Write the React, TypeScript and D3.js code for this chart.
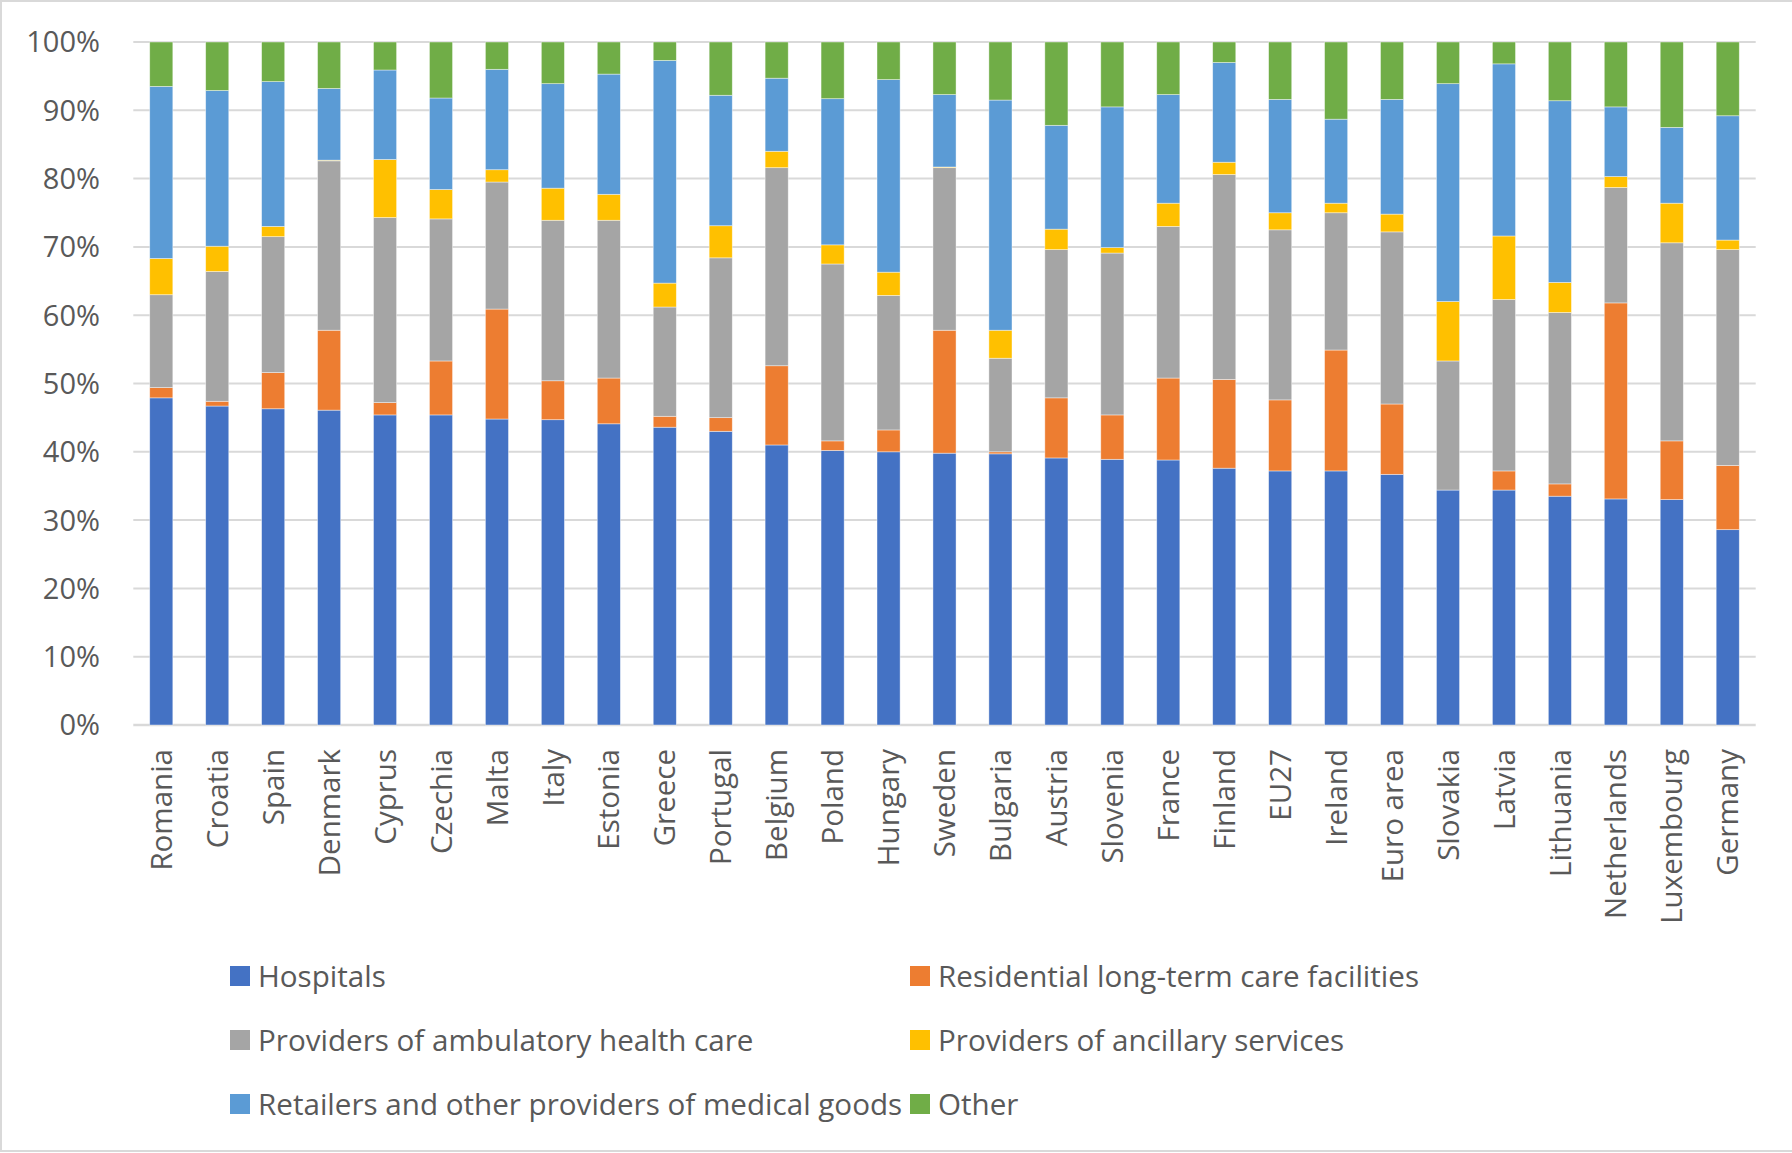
import React, { useEffect } from "react";
import * as d3 from "d3";

// Share of current health expenditure by provider, per country (%)
const countries = [
  "Romania", "Croatia", "Spain", "Denmark", "Cyprus", "Czechia", "Malta", "Italy",
  "Estonia", "Greece", "Portugal", "Belgium", "Poland", "Hungary", "Sweden",
  "Bulgaria", "Austria", "Slovenia", "France", "Finland", "EU27", "Ireland",
  "Euro area", "Slovakia", "Latvia", "Lithuania", "Netherlands", "Luxembourg", "Germany",
];

const hospitals = [
  47.9, 46.7, 46.3, 46.1, 45.4, 45.4, 44.8, 44.7, 44.1, 43.6, 43.0, 41.0, 40.2, 40.0, 39.8,
  39.7, 39.1, 38.9, 38.8, 37.6, 37.2, 37.2, 36.7, 34.4, 34.4, 33.5, 33.1, 33.0, 28.6,
];
const residential = [
  1.5, 0.7, 5.3, 11.7, 1.8, 7.9, 16.1, 5.7, 6.7, 1.6, 2.0, 11.6, 1.4, 3.2, 18.0,
  0.3, 8.8, 6.5, 12.0, 13.0, 10.4, 17.7, 10.3, 0.0, 2.8, 1.8, 28.7, 8.6, 9.4,
];
const ambulatory = [
  13.6, 19.0, 19.9, 24.8, 27.1, 20.8, 18.6, 23.5, 23.1, 16.0, 23.4, 29.0, 25.9, 19.7, 23.8,
  13.7, 21.7, 23.7, 22.2, 30.0, 24.9, 20.1, 25.2, 18.9, 25.1, 25.1, 16.9, 29.0, 31.6,
];
const ancillary = [
  5.3, 3.7, 1.5, 0.1, 8.5, 4.3, 1.8, 4.7, 3.8, 3.5, 4.7, 2.4, 2.8, 3.4, 0.1,
  4.1, 3.0, 0.8, 3.4, 1.8, 2.5, 1.4, 2.6, 8.7, 9.3, 4.4, 1.6, 5.8, 1.4,
];
const retailers = [
  25.2, 22.8, 21.2, 10.5, 13.1, 13.4, 14.7, 15.3, 17.6, 32.6, 19.1, 10.7, 21.4, 28.2, 10.6,
  33.7, 15.2, 20.6, 15.9, 14.6, 16.6, 12.3, 16.8, 31.9, 25.2, 26.6, 10.2, 11.1, 18.2,
];
const other = [
  6.5, 7.1, 5.8, 6.8, 4.1, 8.2, 4.0, 6.1, 4.7, 2.7, 7.8, 5.3, 8.3, 5.5, 7.7,
  8.5, 12.2, 9.5, 7.7, 3.0, 8.4, 11.3, 8.4, 6.1, 3.2, 8.6, 9.5, 12.5, 10.8,
];

const seriesNames = [
  "Hospitals",
  "Residential long-term care facilities",
  "Providers of ambulatory health care",
  "Providers of ancillary services",
  "Retailers and other providers of medical goods",
  "Other",
];
const seriesColors = ["#4472C4", "#ED7D31", "#A5A5A5", "#FFC000", "#5B9BD5", "#70AD47"];
const seriesValues = [hospitals, residential, ambulatory, ancillary, retailers, other];

const yTicks = [0, 0.1, 0.2, 0.3, 0.4, 0.5, 0.6, 0.7, 0.8, 0.9, 1];

const W = 1792;
const H = 1153;
const plot = { left: 133.3, right: 1755.7, top: 42, bottom: 725 };
const FONT = "'Open Sans', 'Segoe UI', sans-serif";
const TEXT = "#595959";
const GRID = "#D9D9D9";
const FS_Y = 29;
const FS_X = 29.5;
const FS_LEGEND = 29.6;

export default function App() {
  useEffect(() => {
    document.body.style.margin = "0";
  }, []);

  const rows = countries.map((c, i) => {
    const r: Record<string, number | string> = { country: c };
    seriesNames.forEach((s, k) => (r[s] = seriesValues[k][i]));
    return r;
  });

  const stacked = d3
    .stack<Record<string, number | string>>()
    .keys(seriesNames)
    .value((d, key) => d[key] as number)
    .offset(d3.stackOffsetExpand)(rows);

  const x = d3
    .scaleBand<string>()
    .domain(countries)
    .range([plot.left, plot.right])
    .paddingInner(0.587)
    .paddingOuter(0.2935);

  const y = d3.scaleLinear().domain([0, 1]).range([plot.bottom, plot.top]);
  const fmt = d3.format(".0%");

  // legend: two columns, three rows
  const legendCols = [230, 910];
  const legendRows = [976, 1040, 1104];

  return (
    <div style={{ position: "absolute", left: 0, top: 0 }}>
      <svg width={W} height={H} style={{ display: "block", background: "#fff" }}>
        <rect x={1} y={1} width={W + 10} height={H - 3} fill="#fff" stroke={GRID} strokeWidth={2} />

        {/* gridlines */}
        {yTicks.map((t) => (
          <line
            key={t}
            x1={plot.left}
            x2={plot.right}
            y1={y(t)}
            y2={y(t)}
            stroke={GRID}
            strokeWidth={t === 0 ? 2.5 : 2}
          />
        ))}

        {/* stacked bars */}
        {stacked.map((layer, k) => (
          <g key={layer.key} fill={seriesColors[k]}>
            {layer.map((seg, i) => {
              const h = y(seg[0]) - y(seg[1]);
              if (h <= 0) return null;
              return (
                <rect
                  key={countries[i]}
                  x={x(countries[i])}
                  y={y(seg[1])}
                  width={x.bandwidth()}
                  height={h}
                  stroke="#ffffff"
                  strokeOpacity={0.55}
                  strokeWidth={0.75}
                />
              );
            })}
          </g>
        ))}

        {/* y-axis labels */}
        {yTicks.map((t) => (
          <text
            key={t}
            x={100}
            y={y(t)}
            dy="0.36em"
            textAnchor="end"
            fontFamily={FONT}
            fontSize={FS_Y}
            fill={TEXT}
          >
            {fmt(t)}
          </text>
        ))}

        {/* x-axis labels */}
        {countries.map((c) => {
          const cx = (x(c) as number) + x.bandwidth() / 2;
          return (
            <text
              key={c}
              transform={`translate(${cx},749) rotate(-90)`}
              dy="0.36em"
              textAnchor="end"
              fontFamily={FONT}
              fontSize={FS_X}
              fill={TEXT}
            >
              {c}
            </text>
          );
        })}

        {/* legend */}
        {seriesNames.map((s, k) => {
          const lx = legendCols[k % 2];
          const ly = legendRows[Math.floor(k / 2)];
          return (
            <g key={s}>
              <rect x={lx} y={ly - 10} width={20} height={20} fill={seriesColors[k]} />
              <text
                x={lx + 28}
                y={ly}
                dy="0.36em"
                fontFamily={FONT}
                fontSize={FS_LEGEND}
                fill={TEXT}
              >
                {s}
              </text>
            </g>
          );
        })}
      </svg>
    </div>
  );
}
